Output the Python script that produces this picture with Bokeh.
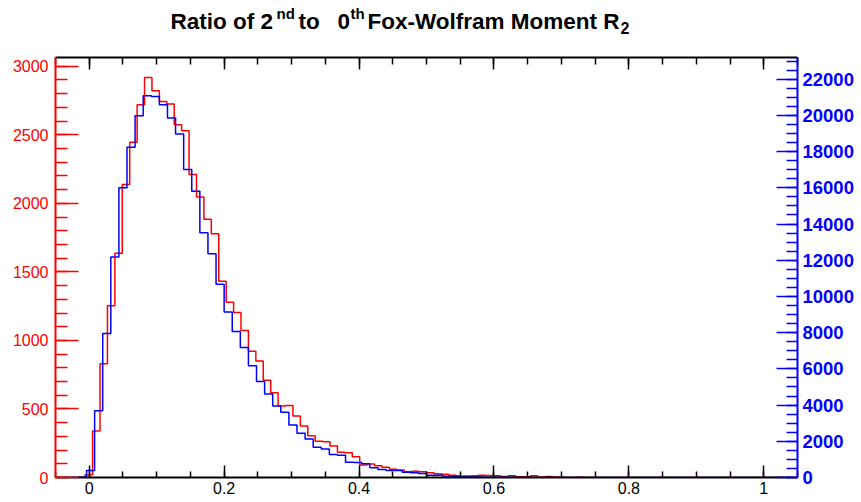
import numpy as np
from bokeh.plotting import figure
from bokeh.layouts import column
from bokeh.models import (Range1d, LinearAxis, FixedTicker, CustomJSTickFormatter)
from bokeh.core.properties import value
from bokeh.embed import file_html
from bokeh.resources import INLINE

# ---------------- data ----------------
# red histogram: 100 bins on [-0.05, 1.05]
red_lo, red_width = -0.05, 0.011
red_counts = [0, 0, 0, 0, 20, 340, 830, 1253, 1636, 2138,
              2445, 2719, 2918, 2821, 2743, 2724, 2574, 2530, 2211, 2046,
              1884, 1779, 1432, 1278, 1203, 1072, 921, 849, 709, 619,
              522, 525, 449, 375, 304, 265, 260, 229, 185, 180,
              151, 91, 98, 86, 74, 60, 54, 42, 45, 42,
              35, 28, 23, 16, 11, 11, 12, 16, 15, 12,
              8, 12, 6, 6, 12, 4, 8, 3, 2, 0,
              2, 0, 0, 0, 0, 0, 0, 0, 0, 0,
              0, 0, 0, 0, 0, 0, 0, 0, 0, 0,
              0, 0, 0, 0, 0, 0, 0, 0, 0, 0]
# blue histogram: 90 bins on [-0.04, 1.04]
blue_lo, blue_width = -0.04, 0.012
blue_counts = [0, 0, 20, 390, 3692, 7951, 12177, 15996, 18238, 19985,
               21087, 21048, 20591, 19853, 18971, 17009, 15814, 13516, 12359, 10673,
               9147, 8063, 7180, 6171, 5308, 4612, 3950, 3600, 2902, 2450,
               2131, 1671, 1580, 1270, 1230, 845, 830, 753, 533, 441,
               390, 380, 294, 265, 220, 130, 125, 75, 70, 40,
               30, 25, 20, 15, 10, 8, 6, 5, 4, 3,
               2, 2, 0, 0, 0, 0, 0, 0, 0, 0,
               0, 0, 0, 0, 0, 0, 0, 0, 0, 0,
               0, 0, 0, 0, 0, 0, 0, 0, 0, 0]

x_ticks = [0, 0.2, 0.4, 0.6, 0.8, 1.0]
x_minor = [round(-0.05 + 0.05 * i, 2) for i in range(23)]
left_ticks = [0, 500, 1000, 1500, 2000, 2500, 3000]
left_minor = list(range(0, 3100, 100))
right_ticks = list(range(0, 24000, 2000))
right_minor = list(range(0, 23500, 500))

title_texts = ["Ratio of 2", "nd", "to", "0", "th", "Fox-Wolfram Moment R", "2"]
title_x = [170, 276, 298, 337, 350, 367, 620]
title_y = [20.5, 13, 20.5, 20.5, 13, 20.5, 27.5]
title_size = ["22.5px", "15px", "22.5px", "22.5px", "15px", "22.5px", "16px"]


def step_xy(lo, width, counts):
    counts = np.asarray(counts, dtype=float)
    edges = lo + width * np.arange(len(counts) + 1)
    xs = np.concatenate([[edges[0]], np.repeat(edges, 2)[1:-1], [edges[-1]]])
    ys = np.concatenate([[0.0], np.repeat(counts, 2), [0.0]])
    return xs, ys


W, H = 861, 502
TOP_H = 51          # height of the title strip
ML, MR, MT, MB = 55, 64, 6, 25
font = "Liberation Sans"

# ---------------- title strip (data coords == canvas pixels) ----------------
t = figure(width=W, height=TOP_H, x_range=Range1d(ML, W - MR), y_range=Range1d(TOP_H, 0),
           output_backend="svg", toolbar_location=None,
           x_axis_type=None, y_axis_type=None,
           min_border_left=ML, min_border_right=MR, min_border_top=0, min_border_bottom=0)
t.outline_line_color = None
t.background_fill_color = "white"
t.border_fill_color = "white"
t.text(x=title_x, y=title_y, text=title_texts, text_font=value(font),
       text_font_style="bold", text_font_size=title_size, text_color="black",
       text_baseline="alphabetic", text_align="left")

# ---------------- main plot ----------------
p = figure(width=W, height=H - TOP_H, x_range=Range1d(-0.05, 1.05),
           y_range=Range1d(0, 1.05 * max(red_counts)),
           output_backend="svg", toolbar_location=None,
           x_axis_type=None, y_axis_type=None,
           min_border_left=ML, min_border_right=MR,
           min_border_top=MT, min_border_bottom=MB)
p.extra_y_ranges = {"right": Range1d(0, 1.1 * max(blue_counts))}
p.outline_line_color = None
p.background_fill_color = "white"
p.border_fill_color = "white"

rx, ry = step_xy(red_lo, red_width, red_counts)
bx, by = step_xy(blue_lo, blue_width, blue_counts)
p.line(rx, ry, line_color="#ff0000", line_width=1.5)
p.line(bx, by, line_color="#0000ff", line_width=1.5, y_range_name="right")

xb = LinearAxis(ticker=FixedTicker(ticks=x_ticks, minor_ticks=x_minor),
                formatter=CustomJSTickFormatter(code="return String(Math.round(tick*10)/10);"),
                axis_line_color="black", axis_line_width=2,
                major_tick_line_color="black", minor_tick_line_color="black",
                major_tick_line_width=1.5, minor_tick_line_width=1.5,
                major_tick_in=12, major_tick_out=0, minor_tick_in=6, minor_tick_out=0,
                major_label_text_font=font, major_label_text_font_size="16px",
                major_label_text_color="black", major_label_standoff=4)
p.add_layout(xb, "below")

xt = LinearAxis(ticker=FixedTicker(ticks=x_ticks, minor_ticks=x_minor),
                formatter=CustomJSTickFormatter(code="return '';"),
                axis_line_color="black", axis_line_width=2,
                major_tick_line_color="black", minor_tick_line_color="black",
                major_tick_line_width=1.5, minor_tick_line_width=1.5,
                major_tick_in=12, major_tick_out=0, minor_tick_in=7, minor_tick_out=0,
                major_label_text_font_size="1px", major_label_standoff=0)
p.add_layout(xt, "above")

yl = LinearAxis(ticker=FixedTicker(ticks=left_ticks, minor_ticks=left_minor),
                axis_line_color="#ff0000", axis_line_width=2,
                major_tick_line_color="#ff0000", minor_tick_line_color="#ff0000",
                major_tick_line_width=1.5, minor_tick_line_width=1.5,
                major_tick_in=23, major_tick_out=0, minor_tick_in=12, minor_tick_out=0,
                major_label_text_font=font, major_label_text_font_size="16px",
                major_label_text_color="#ff0000", major_label_standoff=7)
p.add_layout(yl, "left")

yr = LinearAxis(y_range_name="right",
                ticker=FixedTicker(ticks=right_ticks, minor_ticks=right_minor),
                axis_line_color="#0000ff", axis_line_width=2,
                major_tick_line_color="#0000ff", minor_tick_line_color="#0000ff",
                major_tick_line_width=1.5, minor_tick_line_width=1.5,
                major_tick_in=21, major_tick_out=0, minor_tick_in=11, minor_tick_out=0,
                major_label_text_font=font, major_label_text_font_size="18.5px",
                major_label_text_font_style="bold",
                major_label_text_color="#0000ff", major_label_standoff=5)
p.add_layout(yr, "right")

layout = column(t, p, spacing=0)
open("out.html", "w").write(file_html(layout, INLINE))
